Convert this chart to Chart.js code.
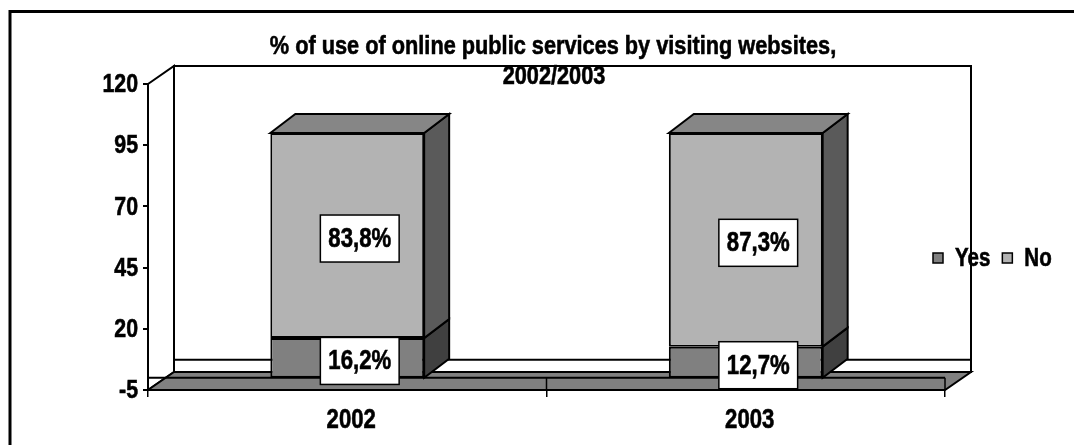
<!DOCTYPE html>
<html>
<head>
<meta charset="utf-8">
<title>Online public services 2002/2003</title>
<script src="https://cdn.jsdelivr.net/npm/chart.js@4/dist/chart.umd.min.js"></script>
<style>
    html, body { margin: 0; padding: 0; background: #fff; }
    #wrap { width: 1074px; height: 445px; position: relative; }
</style>
</head>
<body>
<div id="wrap"><canvas id="servicesChart"></canvas></div>
<script>
// Chart data
const years = ['2002', '2003'];
const yesShare = [16.2, 12.7];
const noShare = [83.8, 87.3];
const seriesNames = ['Yes', 'No'];
const titleLines = ['% of use of online public services by visiting websites,', '2002/2003'];
const axisMin = -5;
const axisMax = 120;
const axisStep = 25;

// Look
const FONT = '"Liberation Sans", Arial, sans-serif';
const NARROW = 0.82;                 // squeeze text horizontally (narrow face)
const WALL_DX = 26, WALL_DY = -18;   // depth of walls / floor
const BAR_DX = 25, BAR_DY = -19;     // depth of the columns
const faceColors = ['#808080', '#b3b3b3'];
const sideColors = ['#404040', '#5a5a5a'];
const topColor = '#868686';
const floorColor = '#808080';

function formatPct(v) {
    return v.toFixed(1).replace('.', ',') + '%';
}

function drawPoly(ctx, pts, fill) {
    ctx.beginPath();
    ctx.moveTo(pts[0][0], pts[0][1]);
    for (let i = 1; i < pts.length; i++) ctx.lineTo(pts[i][0], pts[i][1]);
    ctx.closePath();
    if (fill) {
        ctx.fillStyle = fill;
        ctx.fill();
    }
    ctx.stroke();
}

// heavy, narrow text
function narrowText(ctx, text, x, y, align) {
    ctx.save();
    ctx.translate(x, y);
    ctx.scale(NARROW, 1);
    ctx.textAlign = align;
    ctx.fillText(text, 0, 0);
    ctx.strokeStyle = ctx.fillStyle;
    ctx.lineWidth = 0.6;
    ctx.strokeText(text, 0, 0);
    ctx.restore();
}

function narrowWidth(ctx, text) {
    return ctx.measureText(text).width * NARROW;
}

/**
 * Fake 3D: walls, floor, column sides/tops, value boxes, labels, title and legend
 */
const box3d = {
    id: 'box3d',
    beforeDraw(chart) {
        const { ctx, chartArea: a, scales: { y } } = chart;
        const top = y.getPixelForValue(axisMax);
        const bottom = y.getPixelForValue(axisMin);
        const zero = y.getPixelForValue(0);
        ctx.save();
        ctx.fillStyle = '#fff';
        ctx.fillRect(0, 0, chart.width, chart.height);
        ctx.strokeStyle = '#000';
        ctx.lineWidth = 2;
        // back wall
        ctx.strokeRect(a.left + WALL_DX, top + WALL_DY, a.right - a.left, bottom - top);
        // zero line on the back wall
        ctx.beginPath();
        ctx.moveTo(a.left + WALL_DX, zero + WALL_DY);
        ctx.lineTo(a.right + WALL_DX, zero + WALL_DY);
        ctx.stroke();
        // side wall
        drawPoly(ctx, [[a.left, top], [a.left + WALL_DX, top + WALL_DY],
            [a.left + WALL_DX, bottom + WALL_DY], [a.left, bottom]], '#fff');
        ctx.restore();
    },
    beforeDatasetsDraw(chart) {
        const { ctx, chartArea: a, scales: { x, y } } = chart;
        const bottom = y.getPixelForValue(axisMin);
        const zero = y.getPixelForValue(0);
        ctx.save();
        ctx.strokeStyle = '#000';
        ctx.lineWidth = 2;
        // floor
        drawPoly(ctx, [[a.left, bottom], [a.right, bottom],
            [a.right + WALL_DX, bottom + WALL_DY], [a.left + WALL_DX, bottom + WALL_DY]], floorColor);
        // front zero line
        ctx.beginPath();
        ctx.moveTo(a.left, zero);
        ctx.lineTo(a.right, zero);
        ctx.stroke();
        // category dividers through the floor
        ctx.lineWidth = 1.5;
        for (let i = 0; i <= years.length; i++) {
            const px = x.getPixelForValue(i - 0.5);
            ctx.beginPath();
            ctx.moveTo(px, zero);
            ctx.lineTo(px, bottom);
            ctx.stroke();
        }

        // axis labels
        ctx.fillStyle = '#000';
        ctx.textBaseline = 'middle';
        ctx.font = 'bold 26px ' + FONT;
        y.ticks.forEach((t, i) => {
            narrowText(ctx, t.label, a.left - 10, y.getPixelForTick(i) + 1, 'right');
        });
        ctx.font = 'bold 27px ' + FONT;
        x.ticks.forEach((t, i) => {
            narrowText(ctx, t.label, x.getPixelForTick(i) + 4, 421, 'center');
        });
        ctx.restore();
    },
    afterDatasetsDraw(chart) {
        const { ctx } = chart;
        const last = chart.data.datasets.length - 1;
        ctx.save();
        ctx.strokeStyle = '#000';
        ctx.lineWidth = 2;
        ctx.lineJoin = 'miter';
        chart.data.datasets.forEach((ds, i) => {
            chart.getDatasetMeta(i).data.forEach(bar => {
                const { x, y, base, width } = bar.getProps(['x', 'y', 'base', 'width'], true);
                const l = x - width / 2, r = x + width / 2;
                drawPoly(ctx, [[r, y], [r + BAR_DX, y + BAR_DY], [r + BAR_DX, base + BAR_DY], [r, base]], sideColors[i]);
                if (i === last) {
                    drawPoly(ctx, [[l, y], [l + BAR_DX, y + BAR_DY], [r + BAR_DX, y + BAR_DY], [r, y]], topColor);
                }
            });
        });

        // value boxes
        ctx.font = 'bold 27px ' + FONT;
        ctx.textBaseline = 'middle';
        chart.data.datasets.forEach((ds, i) => {
            chart.getDatasetMeta(i).data.forEach((bar, j) => {
                const { x, y, base } = bar.getProps(['x', 'y', 'base'], true);
                const text = formatPct(ds.data[j]);
                const cx = x + BAR_DX / 2;
                const cy = (y + base) / 2 + 3;
                const w = narrowWidth(ctx, text) + 16;
                const h = 47;
                ctx.lineWidth = 1.5;
                ctx.strokeStyle = '#000';
                ctx.fillStyle = '#fff';
                ctx.fillRect(cx - w / 2, cy - h / 2, w, h);
                ctx.strokeRect(cx - w / 2, cy - h / 2, w, h);
                ctx.fillStyle = '#000';
                narrowText(ctx, text, cx, cy + 1, 'center');
            });
        });
        ctx.restore();
    },
    afterDraw(chart) {
        const { ctx, chartArea: a } = chart;
        ctx.save();
        ctx.fillStyle = '#000';

        // title
        ctx.font = 'bold 26.5px ' + FONT;
        ctx.textBaseline = 'alphabetic';
        narrowText(ctx, titleLines[0], 553, 54, 'center');
        narrowText(ctx, titleLines[1], 554, 84, 'center');

        // legend
        ctx.font = 'bold 25px ' + FONT;
        ctx.textBaseline = 'middle';
        let lx = a.right - 12;
        const ly = 258;
        chart.data.datasets.forEach(ds => {
            ctx.strokeStyle = '#000';
            ctx.lineWidth = 1.5;
            ctx.fillStyle = ds.backgroundColor;
            ctx.fillRect(lx, ly - 5, 10, 10);
            ctx.strokeRect(lx, ly - 5, 10, 10);
            ctx.fillStyle = '#000';
            narrowText(ctx, ds.label, lx + 22, ly + 1, 'left');
            lx += 22 + narrowWidth(ctx, ds.label) + 12;
        });

        // outer frame
        ctx.strokeStyle = '#000';
        ctx.lineWidth = 3;
        ctx.strokeRect(10, 11.5, chart.width + 20, chart.height + 20);
        ctx.restore();
    }
};

new Chart(document.getElementById('servicesChart').getContext('2d'), {
    type: 'bar',
    data: {
        labels: years,
        datasets: [
            {
                label: seriesNames[0],
                data: yesShare,
                backgroundColor: faceColors[0],
                borderColor: '#000',
                borderWidth: 2,
                borderSkipped: false,
                categoryPercentage: 1,
                barPercentage: 0.386
            },
            {
                label: seriesNames[1],
                data: noShare,
                backgroundColor: faceColors[1],
                borderColor: '#000',
                borderWidth: 2,
                borderSkipped: false,
                categoryPercentage: 1,
                barPercentage: 0.386
            }
        ]
    },
    options: {
        responsive: true,
        maintainAspectRatio: false,
        animation: false,
        layout: {
            padding: { top: 84, left: 10, right: 129, bottom: 0 }
        },
        plugins: {
            legend: { display: false },
            title: { display: false },
            tooltip: { enabled: false }
        },
        scales: {
            x: {
                stacked: true,
                border: { display: false },
                grid: {
                    drawOnChartArea: false,
                    drawTicks: true,
                    tickLength: 7,
                    color: '#000',
                    lineWidth: 1.5
                },
                ticks: { display: false },
                afterFit(scale) {
                    scale.height = 55;
                }
            },
            y: {
                stacked: true,
                min: axisMin,
                max: axisMax,
                border: { display: true, color: '#000', width: 2 },
                grid: {
                    drawOnChartArea: false,
                    drawTicks: true,
                    tickLength: 5,
                    color: '#000',
                    lineWidth: 2
                },
                ticks: { display: false, stepSize: axisStep },
                afterFit(scale) {
                    scale.width = 138;
                }
            }
        }
    },
    plugins: [box3d]
});
</script>
</body>
</html>
